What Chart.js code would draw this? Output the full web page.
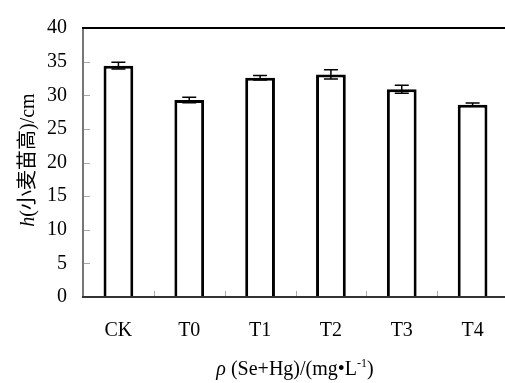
<!DOCTYPE html>
<html>
<head>
<meta charset="utf-8">
<script src="https://cdn.jsdelivr.net/npm/chart.js@4.4.1/dist/chart.umd.min.js"></script>
<style>
  html, body { margin: 0; padding: 0; background: #fff; overflow: hidden; }
  #wrap { width: 508px; height: 383px; }
</style>
</head>
<body>
<div id="wrap"><canvas id="bars" width="508" height="383"></canvas></div>
<script>
// data
var categories = ['CK', 'T0', 'T1', 'T2', 'T3', 'T4'];
var heights = [34.4, 29.3, 32.6, 33.1, 30.9, 28.6];
var errors = [0.5, 0.4, 0.35, 0.7, 0.6, 0.25];

var SERIF = '"Liberation Serif", "Times New Roman", "Noto Sans CJK SC", serif';

// text runs for the axis titles
var yTitle = [
    { text: 'h', italic: true },
    { text: '(小麦苗高)/cm' }
];
var xTitle = [
    { text: 'ρ', italic: true },
    { text: ' (Se+Hg)/(mg•L' },
    { text: '-1', sup: true },
    { text: ')' }
];

function runFont(r, size) {
    return (r.italic ? 'italic ' : '') + (r.sup ? Math.round(size * 0.6) : size) + 'px ' + SERIF;
}

function drawRuns(ctx, runs, size) {
    var total = 0;
    runs.forEach(function (r) {
        ctx.font = runFont(r, size);
        r.w = ctx.measureText(r.text).width;
        total += r.w;
    });
    var x = -total / 2;
    runs.forEach(function (r) {
        ctx.font = runFont(r, size);
        ctx.fillText(r.text, x, r.sup ? -size * 0.4 : 0);
        x += r.w;
    });
}

var extras = {
    id: 'extras',
    afterDatasetsDraw: function (chart) {
        var ctx = chart.ctx;
        var area = chart.chartArea;
        var ys = chart.scales.y;
        var xs = chart.scales.x;
        var meta = chart.getDatasetMeta(0);

        ctx.save();
        // error bars
        ctx.strokeStyle = '#000';
        ctx.lineWidth = 1.5;
        meta.data.forEach(function (bar, i) {
            var hi = ys.getPixelForValue(heights[i] + errors[i]);
            var lo = ys.getPixelForValue(heights[i] - errors[i]);
            ctx.beginPath();
            ctx.moveTo(bar.x, hi); ctx.lineTo(bar.x, lo);
            ctx.moveTo(bar.x - 7, hi); ctx.lineTo(bar.x + 7, hi);
            ctx.moveTo(bar.x - 7, lo); ctx.lineTo(bar.x + 7, lo);
            ctx.stroke();
        });

        // inward tick marks
        ctx.strokeStyle = '#aaa';
        ctx.lineWidth = 1;
        ys.ticks.forEach(function (t, i) {
            var y = Math.round(ys.getPixelForTick(i)) + 0.5;
            ctx.beginPath();
            ctx.moveTo(area.left, y); ctx.lineTo(area.left + 7, y);
            ctx.stroke();
        });
        for (var i = 0; i < categories.length - 1; i++) {
            var x = Math.round((xs.getPixelForValue(i) + xs.getPixelForValue(i + 1)) / 2) + 0.5;
            ctx.beginPath();
            ctx.moveTo(x, area.bottom); ctx.lineTo(x, area.bottom - 6);
            ctx.stroke();
        }

        // axis lines and top frame line
        ctx.lineWidth = 2;
        ctx.strokeStyle = '#777';
        ctx.beginPath();
        ctx.moveTo(area.left, area.top); ctx.lineTo(area.left, area.bottom + 1);
        ctx.stroke();
        ctx.strokeStyle = '#333';
        ctx.beginPath();
        ctx.moveTo(area.left - 1, area.bottom); ctx.lineTo(area.right, area.bottom);
        ctx.stroke();
        ctx.strokeStyle = '#000';
        ctx.beginPath();
        ctx.moveTo(area.left - 1, area.top); ctx.lineTo(area.right, area.top);
        ctx.stroke();

        // axis titles
        ctx.fillStyle = '#000';
        ctx.textBaseline = 'alphabetic';
        ctx.save();
        ctx.translate(34, 160);
        ctx.rotate(-Math.PI / 2);
        drawRuns(ctx, yTitle, 20);
        ctx.restore();

        ctx.save();
        ctx.translate(295, 375);
        drawRuns(ctx, xTitle, 20);
        ctx.restore();
        ctx.restore();
    }
};

var ctx = document.getElementById('bars');
var myChart = new Chart(ctx, {
    type: 'bar',
    data: {
        labels: categories,
        datasets: [{
            data: heights,
            backgroundColor: '#fff',
            borderColor: '#000',
            borderWidth: 3,
            borderSkipped: 'bottom',
            categoryPercentage: 1,
            barPercentage: 0.42
        }]
    },
    options: {
        responsive: false,
        animation: false,
        layout: { padding: { top: 19, left: 0, right: 0, bottom: 0 } },
        plugins: {
            legend: { display: false },
            tooltip: { enabled: false }
        },
        scales: {
            x: {
                grid: { display: false, drawTicks: false },
                border: { display: false },
                ticks: { color: '#000', padding: 22, font: { family: SERIF, size: 20 } },
                afterFit: function (scale) { scale.height = 86; }
            },
            y: {
                min: 0,
                max: 40,
                grid: { display: false, drawTicks: false },
                border: { display: false },
                ticks: { stepSize: 5, color: '#000', padding: 16, font: { family: SERIF, size: 20 } },
                afterFit: function (scale) { scale.width = 83; }
            }
        }
    },
    plugins: [extras]
});
</script>
</body>
</html>
